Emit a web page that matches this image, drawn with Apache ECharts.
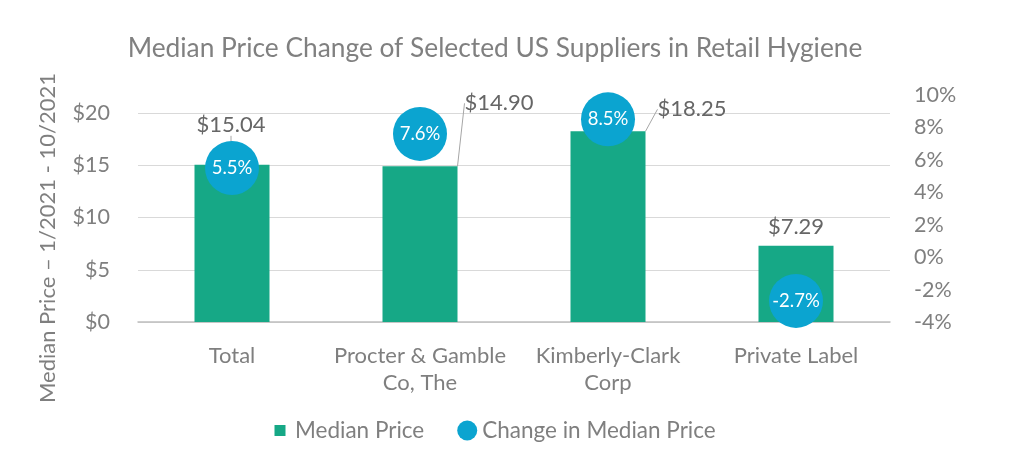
<!DOCTYPE html>
<html>
<head>
<meta charset="utf-8">
<script src="https://cdn.jsdelivr.net/npm/echarts@6/dist/echarts.min.js"></script>
<style>html,body{margin:0;padding:0;background:#fff;}#c{width:1024px;height:466px;}</style>
</head>
<body>
<div id="c"></div>
<script>
const categories = ['Total', 'Procter & Gamble\nCo, The', 'Kimberly-Clark\nCorp', 'Private Label'];
const medianPrice = [15.04, 14.90, 18.25, 7.29];
const priceChange = [5.5, 7.6, 8.5, -2.7];
const leftTicks = { min: 0, max: 20, interval: 5 };
const rightTicks = { min: -4, max: 10, interval: 2 };

const FONT = 'Lato';
const GRAY = '#7f7f7f';
const GREEN = '#16a886';
const BLUE = '#0ba4d0';

const chart = echarts.init(document.getElementById('c'));
const labelShift = [[-1, -23], [79, -46], [84, -5], [0, -2]];
const showLeader = [true, true, true, false];

chart.setOption({
  animation: false,
  textStyle: { fontFamily: FONT },
  title: {
    text: 'Median Price Change of Selected US Suppliers in Retail Hygiene',
    left: 490, top: 31, textAlign: 'center',
    textStyle: { fontFamily: FONT, fontSize: 26.3, fontWeight: 'normal', color: '#808080' }
  },
  graphic: [{
    type: 'text', x: 48, y: 238, rotation: Math.PI / 2,
    style: { text: 'Median Price \u2013 1/2021 - 10/2021', fontFamily: FONT, fontSize: 22,
      fill: GRAY, align: 'center', verticalAlign: 'middle' }
  }],
  legend: {
    left: 265, top: 414, itemWidth: 20, itemHeight: 20, itemGap: 33,
    textStyle: { fontFamily: FONT, fontSize: 22.5, color: GRAY },
    data: [
      { name: 'Median Price', icon: 'path://M0,0h0.05v0.05h-0.05z M4.5,4.5h11v11h-11z M19.95,19.95h0.05v0.05h-0.05z' },
      { name: 'Change in Median Price', icon: 'circle' }
    ]
  },
  grid: [
    { left: 138, right: 134, top: 113, bottom: 144 },
    { left: 138, right: 134, top: 95, bottom: 144 }
  ],
  xAxis: [
    { type: 'category', gridIndex: 0, data: categories,
      axisLine: { lineStyle: { color: '#bfbfbf', width: 1.5 } }, axisTick: { show: false },
      axisLabel: { interval: 0, fontFamily: FONT, fontSize: 22, color: GRAY, margin: 20, lineHeight: 27 } },
    { type: 'category', gridIndex: 1, data: categories, show: false }
  ],
  yAxis: [
    { type: 'value', gridIndex: 0, min: leftTicks.min, max: leftTicks.max, interval: leftTicks.interval,
      axisLine: { show: false }, axisTick: { show: false },
      splitLine: { lineStyle: { color: '#d9d9d9', width: 1.2 } },
      axisLabel: { fontFamily: FONT, fontSize: 21.5, color: GRAY, margin: 28, formatter: '${value}' } },
    { type: 'value', gridIndex: 1, position: 'right', min: rightTicks.min, max: rightTicks.max, interval: rightTicks.interval,
      axisLine: { show: false }, axisTick: { show: false }, splitLine: { show: false },
      axisLabel: { fontFamily: FONT, fontSize: 21.5, color: GRAY, margin: 24, formatter: '{value}%' } }
  ],
  series: [
    { name: 'Median Price', type: 'bar', xAxisIndex: 0, yAxisIndex: 0,
      data: medianPrice.map((v, i) => ({ value: v, labelLine: { show: showLeader[i] } })),
      barWidth: 75, itemStyle: { color: GREEN }, z: 2,
      label: { show: true, position: 'top', distance: 6, fontFamily: FONT, fontSize: 22, color: '#666666',
        formatter: p => '$' + p.value.toFixed(2) },
      labelLine: { show: true, lineStyle: { color: '#a6a6a6', width: 1 } },
      labelLayout: p => ({ dx: labelShift[p.dataIndex][0], dy: labelShift[p.dataIndex][1] })
    },
    { name: 'Change in Median Price', type: 'scatter', xAxisIndex: 1, yAxisIndex: 1, data: priceChange,
      symbol: 'circle', symbolSize: 54, itemStyle: { color: BLUE, opacity: 1 }, z: 3,
      label: { show: true, position: 'inside', fontFamily: FONT, fontSize: 18.5, color: '#ffffff',
        formatter: p => p.value.toFixed(1) + '%' }
    }
  ]
});
</script>
</body>
</html>
